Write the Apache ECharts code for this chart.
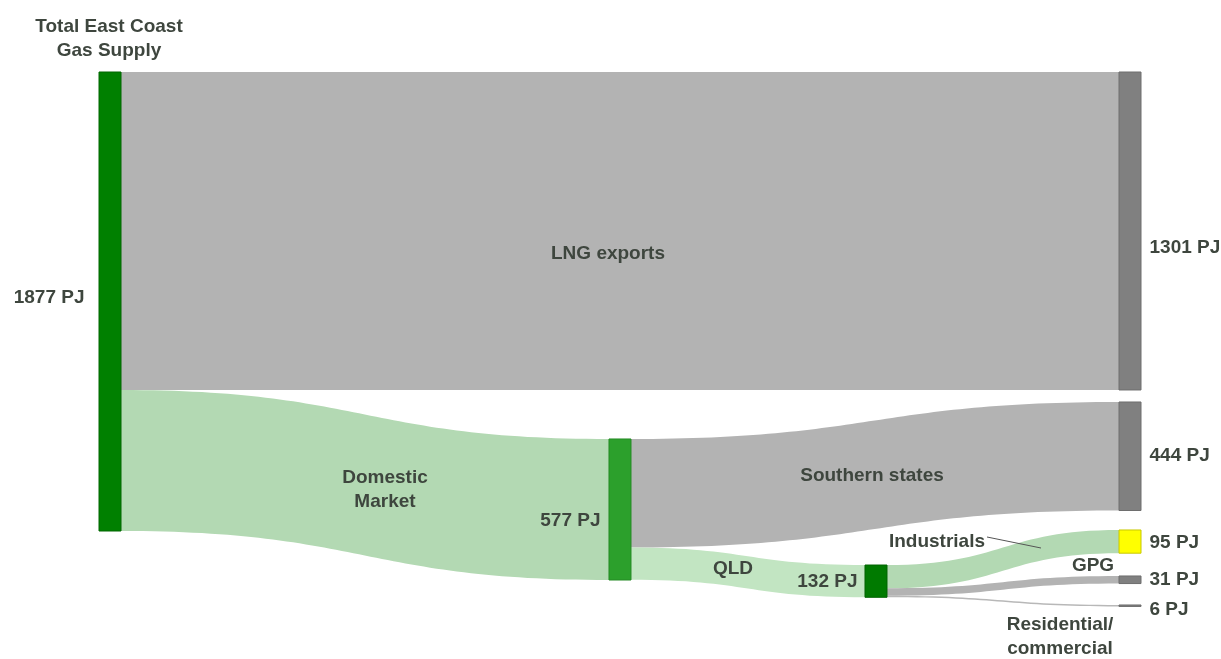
<!DOCTYPE html>
<html>
<head>
<meta charset="utf-8">
<script src="https://cdn.jsdelivr.net/npm/echarts@6/dist/echarts.min.js"></script>
<style>html,body{margin:0;padding:0;background:#fff;}#c{width:1221px;height:659px;}</style>
</head>
<body>
<div id="c"></div>
<script>
// ---- data ----
const nodeNames = ['Total East Coast Gas Supply', 'LNG exports', 'Domestic Market', 'Southern states', 'QLD', 'Industrials', 'GPG', 'Residential/commercial'];
const nodeValues = [1877, 1301, 577, 444, 132, 95, 31, 6];
const flowSources = ['Total East Coast Gas Supply', 'Total East Coast Gas Supply', 'Domestic Market', 'Domestic Market', 'QLD', 'QLD', 'QLD'];
const flowTargets = ['LNG exports', 'Domestic Market', 'Southern states', 'QLD', 'Industrials', 'GPG', 'Residential/commercial'];
const flowValues = [1301, 577, 444, 132, 95, 31, 6];
const flowLabels = ['LNG exports', 'Domestic\nMarket', 'Southern states', 'QLD', 'Industrials', 'GPG', 'Residential/\ncommercial'];
const unit = 'PJ';

// ---- layout / style ----
const txt = '#3e463e';
const font = 'Liberation Sans, Arial, sans-serif';
const nodeDepth = [0, 1, 1, 2, 2, 3, 3, 3];
const nodeLocalX = [0, 0.97889, 0.48944, 0.97889, 0.73512, 0.97889, 0.97889, 0.97889];
const nodeLocalY = [0, 0, 0.6796, 0.6111, 0.9130, 0.8481, 0.9333, 0.9870];
const nodeColors = ['#008000', '#808080', '#2ca02c', '#808080', '#007a00', '#ffff00', '#808080', '#808080'];
const nodeBorders = ['#006600', '#6e6e6e', '#248a24', '#6e6e6e', '#006400', '#c8c800', '#6e6e6e', '#6e6e6e'];
const nodeLabelPos = ['left', 'right', 'left', 'right', 'left', 'right', 'right', 'right'];
const nodeLabelDist = [14, 8, 8, 8, 7, 8, 8, 8];
const nodeLabelOffset = [[0, -4], [0, 17], [0, 11], [0, 0], [0, 1], [0, 1], [0, 0], [0, 4]];
const flowColors = ['#b3b3b3', '#b3d9b3', '#b3b3b3', '#c2e5c2', '#b3d9b3', '#b3b3b3', '#b8b8b8'];
const flowLabelOffset = [[-12, 23], [20, 5], [-3, 1], [-15, -4], [-66, -17], [90, -20], [57, 36]];

const nodes = nodeNames.map((n, i) => ({
  name: n,
  value: nodeValues[i],
  depth: nodeDepth[i],
  localX: nodeLocalX[i],
  localY: nodeLocalY[i],
  itemStyle: { color: nodeColors[i], borderColor: nodeBorders[i], borderWidth: 1 },
  label: {
    show: true,
    position: nodeLabelPos[i],
    distance: nodeLabelDist[i],
    offset: nodeLabelOffset[i],
    formatter: nodeValues[i] + ' ' + unit
  }
}));

const links = flowValues.map((v, i) => ({
  source: flowSources[i],
  target: flowTargets[i],
  value: v,
  lineStyle: { color: flowColors[i], opacity: 1 },
  edgeLabel: {
    show: true,
    formatter: flowLabels[i],
    offset: flowLabelOffset[i]
  }
}));

const chart = echarts.init(document.getElementById('c'), null, { renderer: 'canvas' });
chart.setOption({
  backgroundColor: '#ffffff',
  animation: false,
  title: {
    text: 'Total East Coast\nGas Supply',
    left: 104,
    top: 10,
    textAlign: 'center',
    textStyle: { fontFamily: font, fontSize: 19, fontWeight: 'bold', color: txt, lineHeight: 24 }
  },
  graphic: [{
    type: 'line',
    z: 100,
    shape: { x1: 987, y1: 537, x2: 1041, y2: 548 },
    style: { stroke: '#555555', lineWidth: 1 },
    silent: true
  }],
  series: [{
    type: 'sankey',
    left: 99,
    top: 72,
    width: 1042,
    height: 540,
    nodeWidth: 22,
    nodeGap: 81,
    layoutIterations: 0,
    draggable: false,
    emphasis: { disabled: true },
    label: { fontFamily: font, fontSize: 19, fontWeight: 'bold', color: txt },
    edgeLabel: { fontFamily: font, fontSize: 19, fontWeight: 'bold', color: txt, lineHeight: 24, align: 'center' },
    lineStyle: { curveness: 0.5, opacity: 1 },
    data: nodes,
    links: links
  }]
});
</script>
</body>
</html>
